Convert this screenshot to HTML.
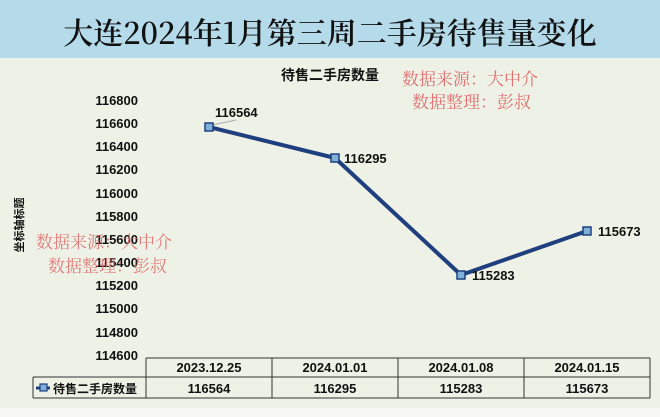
<!DOCTYPE html>
<html><head><meta charset="utf-8"><style>
html,body{margin:0;padding:0;width:660px;height:417px;overflow:hidden;background:#eef2e6;}
</style></head><body>
<svg width="660" height="417" xmlns="http://www.w3.org/2000/svg" style="display:block">
<rect x="0" y="0" width="660" height="417" fill="#eef2e6"/>
<rect x="0" y="0" width="660" height="58" fill="#b5dbeb"/>
<rect x="0" y="408" width="660" height="9" fill="#f7f8f5"/>
<text x="330" y="44" text-anchor="middle" font-family="'Noto Serif CJK SC','Liberation Serif',serif" font-size="30" font-weight="600" fill="#111">大连2024年1月第三周二手房待售量变化</text>
<text x="330" y="80" text-anchor="middle" font-family="'Liberation Sans','Noto Sans CJK SC',sans-serif" font-size="14" font-weight="bold" fill="#111">待售二手房数量</text>
<g font-family="'Noto Serif CJK SC',serif" font-size="17" fill="#de7070">
<text x="402" y="85">数据来源：大中介</text>
<text x="412" y="108">数据整理：彭叔</text>
</g>
<g font-family="'Liberation Sans',sans-serif" font-size="13" font-weight="bold" fill="#111" text-anchor="end">
<text x="138" y="105">116800</text><text x="138" y="128">116600</text><text x="138" y="151">116400</text>
<text x="138" y="174">116200</text><text x="138" y="198">116000</text><text x="138" y="221">115800</text>
<text x="138" y="244">115600</text><text x="138" y="267">115400</text><text x="138" y="290">115200</text>
<text x="138" y="313">115000</text><text x="138" y="337">114800</text><text x="138" y="360">114600</text>
</g>
<text transform="translate(23,225) rotate(-90)" text-anchor="middle" font-family="'Noto Sans CJK SC',sans-serif" font-size="11" font-weight="bold" fill="#111">坐标轴标题</text>
<g font-family="'Noto Serif CJK SC',serif" font-size="17" fill="#de7070" opacity="0.9">
<text x="36" y="248">数据来源：大中介</text>
<text x="48" y="272">数据整理：彭叔</text>
</g>
<line x1="212" y1="125" x2="236" y2="120" stroke="#aaa" stroke-width="1"/>
<polyline points="209,127 335,158 461,275 587,231" fill="none" stroke="#1f3f7f" stroke-width="4" stroke-linejoin="round"/>
<g fill="#7fb0d8" stroke="#1f3f7f" stroke-width="1.5">
<rect x="205" y="123" width="8" height="8"/><rect x="331" y="154" width="8" height="8"/>
<rect x="457" y="271" width="8" height="8"/><rect x="583" y="227" width="8" height="8"/>
</g>
<g font-family="'Liberation Sans',sans-serif" font-size="13" font-weight="bold" fill="#111">
<text x="215" y="117">116564</text><text x="344" y="163">116295</text>
<text x="472" y="280">115283</text><text x="598" y="236">115673</text>
</g>
<g stroke="#333" stroke-width="1" fill="none">
<line x1="146" y1="358" x2="650" y2="358"/>
<line x1="33" y1="377" x2="650" y2="377"/>
<line x1="33" y1="398" x2="650" y2="398"/>
<line x1="33" y1="377" x2="33" y2="398"/>
<line x1="146" y1="358" x2="146" y2="398"/><line x1="272" y1="358" x2="272" y2="398"/>
<line x1="398" y1="358" x2="398" y2="398"/><line x1="524" y1="358" x2="524" y2="398"/>
<line x1="650" y1="358" x2="650" y2="398"/>
</g>
<g font-family="'Liberation Sans',sans-serif" font-size="13" font-weight="bold" fill="#111" text-anchor="middle">
<text x="209" y="372">2023.12.25</text><text x="335" y="372">2024.01.01</text>
<text x="461" y="372">2024.01.08</text><text x="587" y="372">2024.01.15</text>
<text x="209" y="393">116564</text><text x="335" y="393">116295</text>
<text x="461" y="393">115283</text><text x="587" y="393">115673</text>
</g>
<line x1="36" y1="388" x2="50" y2="388" stroke="#1f3f7f" stroke-width="3"/>
<rect x="40" y="384" width="7" height="7" fill="#7fb0d8" stroke="#1f3f7f" stroke-width="1.2"/>
<text x="53" y="393" font-family="'Noto Sans CJK SC',sans-serif" font-size="12" font-weight="bold" fill="#111">待售二手房数量</text>
</svg>
</body></html>
